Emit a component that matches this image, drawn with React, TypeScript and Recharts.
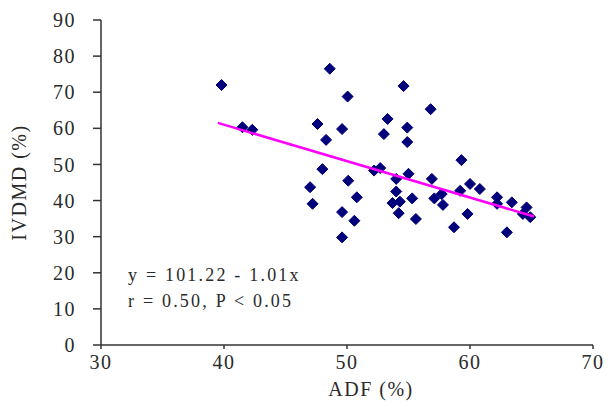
import { ScatterChart, Scatter, XAxis, YAxis, Label } from "recharts"

const adf = [
  39.8, 41.5, 42.3, 47.6, 48.6, 48.3, 49.6, 50.05, 53.3, 53.0, 54.6, 56.8, 54.9,
  54.9, 48.0, 47.0, 50.1, 50.8, 47.2, 49.6, 50.6, 49.6, 52.2, 52.7, 54.0, 55.0,
  54.0, 53.7, 54.3, 54.2, 55.3, 55.6, 56.9, 57.1, 57.7, 57.8, 58.7, 59.3, 59.2,
  60.0, 59.8, 60.8, 62.2, 62.2, 63.4, 64.6, 64.3, 64.9, 63.0,
]
const ivdmd = [
  72.0, 60.3, 59.6, 61.2, 76.5, 56.8, 59.8, 68.8, 62.6, 58.4, 71.7, 65.3, 60.2,
  56.2, 48.7, 43.7, 45.5, 40.9, 39.1, 36.8, 34.4, 29.8, 48.3, 49.0, 46.0, 47.4,
  42.5, 39.3, 39.7, 36.5, 40.6, 34.9, 46.0, 40.6, 41.8, 38.8, 32.6, 51.2, 42.7,
  44.6, 36.3, 43.2, 40.9, 39.1, 39.5, 38.1, 36.3, 35.4, 31.2,
]
const fitAdf = [39.5, 65.2]
const fitIvdmd = [61.5, 35.6]
const xTicks = [30, 40, 50, 60, 70]
const yTicks = [0, 10, 20, 30, 40, 50, 60, 70, 80, 90]

const points = adf.map((x, i) => ({ x, y: ivdmd[i] }))
const fitLine = fitAdf.map((x, i) => ({ x, y: fitIvdmd[i] }))

const FONT = "'Liberation Serif', 'Times New Roman', serif"
const AXIS = "#333"
const TEXT = "#2a2a2a"

const Diamond = (props: any) => {
  const { cx, cy } = props
  const r = 5.5
  return (
    <path
      d={`M${cx},${cy - r}L${cx + r},${cy}L${cx},${cy + r}L${cx - r},${cy}Z`}
      fill="#00007a"
      stroke="#00007a"
      strokeWidth={1}
      strokeLinejoin="round"
    />
  )
}

const NoDot = () => <g />

export default function App() {
  return (
    <div style={{ position: "absolute", left: 0, top: 0, width: 613, height: 403, background: "#fff" }}>
      <ScatterChart
        width={613}
        height={403}
        margin={{ top: 20, right: 20, bottom: 0, left: 0 }}
      >
        <XAxis
          type="number"
          dataKey="x"
          domain={[30, 70]}
          ticks={xTicks}
          height={58}
          tickSize={4}
          tickMargin={6}
          stroke={AXIS}
          strokeWidth={1.5}
          tick={{ fill: TEXT, fontSize: 20, fontFamily: FONT, letterSpacing: 1.5 }}
        >
          <Label
            content={({ viewBox }: any) => (
              <text
                x={viewBox.x + viewBox.width / 2 + 24}
                y={viewBox.y + 51}
                textAnchor="middle"
                fontSize={20}
                fontFamily={FONT}
                letterSpacing={1.5}
                fill={TEXT}
              >
                ADF (%)
              </text>
            )}
          />
        </XAxis>
        <YAxis
          type="number"
          dataKey="y"
          domain={[0, 90]}
          ticks={yTicks}
          width={101}
          tickSize={8}
          tickMargin={17}
          stroke={AXIS}
          strokeWidth={1.5}
          tick={{ fill: TEXT, fontSize: 20, fontFamily: FONT, letterSpacing: 1.5 }}
        >
          <Label
            content={({ viewBox }: any) => {
              const cx = 26
              const cy = viewBox.y + viewBox.height / 2
              return (
                <text
                  x={cx}
                  y={cy}
                  transform={`rotate(-90 ${cx} ${cy})`}
                  textAnchor="middle"
                  fontSize={20}
                  fontFamily={FONT}
                  letterSpacing={1.5}
                  fill={TEXT}
                >
                  IVDMD (%)
                </text>
              )
            }}
          />
        </YAxis>
        <Scatter
          data={points}
          shape={<Diamond />}
          isAnimationActive={false}
        />
        <Scatter
          data={fitLine}
          line={{ stroke: "#ff00ff", strokeWidth: 2.5 }}
          shape={<NoDot />}
          isAnimationActive={false}
        />
      </ScatterChart>
      <div
        style={{
          position: "absolute",
          left: 128,
          top: 262,
          fontFamily: FONT,
          fontSize: 18,
          lineHeight: "26px",
          letterSpacing: 2.2,
          color: TEXT,
          whiteSpace: "pre",
        }}
      >
        <div>y = 101.22 - 1.01x</div>
        <div>r = 0.50, P {"<"} 0.05</div>
      </div>
    </div>
  )
}
